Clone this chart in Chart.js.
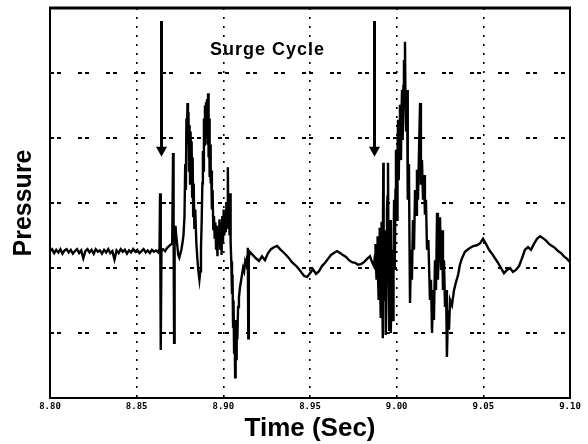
<!DOCTYPE html>
<html>
<head>
<meta charset="utf-8">
<script src="https://cdn.jsdelivr.net/npm/chart.js@4.4.1/dist/chart.umd.min.js"></script>
<style>
  html, body { margin: 0; padding: 0; background: #fff; }
  canvas { display: block; }
</style>
</head>
<body>
<canvas id="c" width="588" height="444"></canvas>
<script>
// ---- data (time in seconds, pressure in grid units) ----
const time = [
  8.8000, 8.8012, 8.8024, 8.8036, 8.8048, 8.8060, 8.8072, 8.8084, 8.8096, 8.8108,
  8.8120, 8.8132, 8.8144, 8.8156, 8.8168, 8.8180, 8.8192, 8.8204, 8.8216, 8.8228,
  8.8240, 8.8252, 8.8264, 8.8276, 8.8288, 8.8300, 8.8312, 8.8324, 8.8336, 8.8348,
  8.8360, 8.8372, 8.8384, 8.8396, 8.8408, 8.8420, 8.8432, 8.8444, 8.8456, 8.8468,
  8.8480, 8.8492, 8.8504, 8.8516, 8.8528, 8.8540, 8.8552, 8.8564, 8.8576, 8.8588,
  8.8600, 8.8612, 8.8624,
  8.8632, 8.8635, 8.8638, 8.8640, 8.8643, 8.8652, 8.8664, 8.8676, 8.8688, 8.8705,
  8.8710, 8.8713, 8.8716, 8.8719, 8.8724, 8.8728, 8.8733, 8.8740, 8.8746, 8.8752,
  8.8758, 8.8764, 8.8770, 8.8776, 8.8780, 8.8784, 8.8787, 8.8790, 8.8793, 8.8796,
  8.8799, 8.8802, 8.8805, 8.8808, 8.8811, 8.8814, 8.8817, 8.8820, 8.8823, 8.8826,
  8.8829, 8.8833, 8.8838, 8.8844, 8.8850, 8.8856, 8.8862, 8.8867, 8.8871, 8.8875,
  8.8879, 8.8882, 8.8885, 8.8888, 8.8891, 8.8894, 8.8897, 8.8900, 8.8903, 8.8906,
  8.8909, 8.8912, 8.8915, 8.8918, 8.8921, 8.8924, 8.8927, 8.8930, 8.8934, 8.8938,
  8.8942, 8.8946, 8.8950, 8.8954, 8.8958, 8.8962, 8.8966, 8.8970, 8.8974, 8.8978,
  8.8982, 8.8986, 8.8990, 8.8994, 8.8998, 8.9002, 8.9006, 8.9010, 8.9014, 8.9018,
  8.9022, 8.9026, 8.9029, 8.9033, 8.9036, 8.9039, 8.9042, 8.9046, 8.9050, 8.9053,
  8.9056, 8.9059, 8.9062, 8.9065, 8.9068, 8.9071, 8.9074, 8.9077, 8.9081, 8.9085,
  8.9090, 8.9096, 8.9102, 8.9108, 8.9114, 8.9120, 8.9126, 8.9132, 8.9138, 8.9141,
  8.9144, 8.9147, 8.9152,
  8.9188, 8.9206, 8.9223, 8.9240, 8.9258, 8.9275, 8.9292, 8.9310, 8.9327, 8.9344,
  8.9362, 8.9379, 8.9396, 8.9413, 8.9431, 8.9448, 8.9465, 8.9483, 8.9500, 8.9517,
  8.9535, 8.9552, 8.9569, 8.9587, 8.9604, 8.9621, 8.9638, 8.9656, 8.9673, 8.9690,
  8.9708, 8.9725, 8.9742, 8.9760, 8.9777, 8.9794, 8.9812, 8.9829, 8.9846,
  8.9858, 8.9869, 8.9875, 8.9878, 8.9881, 8.9884, 8.9887, 8.9890, 8.9893, 8.9896,
  8.9899, 8.9902, 8.9905, 8.9908, 8.9911, 8.9913, 8.9916, 8.9919, 8.9921, 8.9923,
  8.9925, 8.9927, 8.9930, 8.9933, 8.9936, 8.9938, 8.9941, 8.9944, 8.9947, 8.9950,
  8.9953, 8.9956, 8.9959, 8.9962, 8.9965, 8.9967, 8.9970, 8.9973, 8.9976, 8.9979,
  8.9982, 8.9985, 8.9988, 8.9990, 8.9993, 8.9996, 8.9999, 9.0002, 9.0005, 9.0008,
  9.0011, 9.0013, 9.0016, 9.0019, 9.0022, 9.0025, 9.0028, 9.0031, 9.0033, 9.0036,
  9.0039, 9.0042, 9.0045, 9.0048, 9.0051, 9.0054, 9.0057, 9.0060, 9.0063, 9.0065,
  9.0068, 9.0071, 9.0074, 9.0077,
  9.0083, 9.0088, 9.0094, 9.0100, 9.0106, 9.0112, 9.0117, 9.0123, 9.0129, 9.0135,
  9.0140, 9.0146, 9.0152, 9.0158, 9.0163, 9.0169, 9.0175, 9.0183, 9.0192, 9.0198,
  9.0204, 9.0210, 9.0215, 9.0221, 9.0227, 9.0233, 9.0238, 9.0244, 9.0250, 9.0256,
  9.0262, 9.0267, 9.0273, 9.0279, 9.0285, 9.0290, 9.0296, 9.0302, 9.0308, 9.0319,
  9.0331, 9.0342, 9.0354, 9.0365, 9.0377,
  9.0394, 9.0412, 9.0429, 9.0446, 9.0463, 9.0481, 9.0498, 9.0515, 9.0533, 9.0550,
  9.0567, 9.0585, 9.0602, 9.0619, 9.0637, 9.0654, 9.0671, 9.0688, 9.0706, 9.0723,
  9.0740, 9.0758, 9.0775, 9.0792, 9.0810, 9.0827, 9.0844, 9.0862, 9.0879, 9.0896,
  9.0913, 9.0931, 9.0948, 9.0965, 9.0983, 9.1000
];
const pressure = [
  -0.74, -0.71, -0.77, -0.72, -0.76, -0.71, -0.78, -0.73, -0.71, -0.76,
  -0.72, -0.78, -0.74, -0.71, -0.77, -0.73, -0.85, -0.74, -0.71, -0.76,
  -0.72, -0.78, -0.71, -0.75, -0.73, -0.78, -0.72, -0.76, -0.71, -0.77,
  -0.74, -0.87, -0.73, -0.77, -0.71, -0.75, -0.72, -0.78, -0.73, -0.76,
  -0.71, -0.75, -0.72, -0.77, -0.74, -0.71, -0.76, -0.73, -0.77, -0.72,
  -0.75, -0.73, -0.76,
  -0.70, 0.15, -0.60, -2.26, -0.72, -0.71, -0.74, -0.69, -0.66, -0.62,
  0.77, -0.40, -2.15, -0.55, -0.35, -0.50, -0.62, -0.80, -0.84, -0.78,
  -0.72, -0.62, -0.50, -0.20, 0.60, 0.20, 1.30, 0.90, 1.54, 1.00,
  1.40, 0.50, 1.20, 0.30, 1.10, 0.40, 0.95, 0.10, 0.70, -0.20,
  0.30, -0.40, -0.10, -0.60, -0.85, -1.05, -1.18, -1.05, -0.70, -0.30,
  0.30, 0.80, 0.50, 1.30, 0.90, 1.50, 1.10, 1.55, 1.00, 1.60,
  0.90, 1.69, 0.70, 1.30, 0.40, 0.90, 0.30, 0.50, -0.10, 0.20,
  -0.40, -0.20, -0.55, -0.30, -0.70, -0.35, -0.82, -0.40, -0.60, -0.25,
  -0.70, -0.30, -0.80, -0.20, -0.60, -0.10, -0.50, -0.15, -0.45, 0.00,
  -0.30, 0.55, -0.40, -0.10, -0.50, 0.15, -0.60, -0.90, -1.40, -1.10,
  -1.90, -1.50, -2.30, -1.80, -2.68, -2.00, -2.40, -1.80, -2.10, -1.60,
  -1.45, -1.30, -1.20, -1.10, -1.00, -1.05, -0.90, -0.95, -0.82, -0.69,
  -2.08, -0.85, -0.75,
  -0.85, -0.89, -0.82, -0.88, -0.77, -0.71, -0.68, -0.66, -0.71, -0.75,
  -0.80, -0.85, -0.91, -0.95, -1.00, -1.06, -1.12, -1.14, -1.08, -1.02,
  -1.09, -1.05, -0.97, -0.92, -0.86, -0.80, -0.77, -0.74, -0.77, -0.80,
  -0.83, -0.88, -0.91, -0.92, -0.95, -0.94, -0.91, -0.86, -0.82,
  -0.91, -0.97, -0.80, -0.63, -1.00, -1.18, -0.70, -0.51, -1.20, -1.49,
  -0.70, -0.38, -1.30, -1.77, -0.90, -0.29, -1.40, -2.08, -0.80, 0.62,
  -0.60, -1.49, -0.90, -0.42, -1.50, -2.03, -1.00, -0.11, 0.10, 0.62,
  -0.80, -1.95, -1.00, -0.26, -1.20, -2.00, -1.30, -0.72, -1.40, -1.80,
  -0.80, 0.05, -0.60, -1.03, 0.20, 0.82, 0.20, -0.26, 0.80, 1.28,
  0.70, 0.35, 1.20, 1.51, 1.00, 0.66, 1.40, 1.74, 1.20, 0.97,
  1.80, 2.20, 1.60, 2.48, 1.50, 1.12, 1.60, 1.74, 0.80, 0.05,
  0.60, 0.51, -0.60, -1.54,
  -0.72, -1.18, -0.26, -0.72, 0.20, -0.18, 0.51, 0.05, 0.82, 1.54,
  0.28, 0.66, 0.05, 0.43, -0.18, 0.05, -0.72, -0.57, -1.49, -1.18,
  -2.00, -1.34, -1.80, -0.88, -1.34, -0.15, -1.18, -0.57, -0.22, -1.03,
  -0.42, -1.34, -0.88, -1.60, -1.34, -2.37, -1.65, -1.95, -1.49, -1.57,
  -1.34, -1.22, -1.11, -0.95, -0.85,
  -0.75, -0.71, -0.68, -0.66, -0.65, -0.62, -0.55, -0.63, -0.72, -0.78,
  -0.85, -0.92, -1.00, -1.08, -1.03, -1.00, -1.06, -1.03, -0.97, -0.85,
  -0.72, -0.68, -0.72, -0.63, -0.55, -0.51, -0.54, -0.58, -0.63, -0.66,
  -0.69, -0.74, -0.77, -0.82, -0.86, -0.91
];

const xTickValues = [8.80, 8.85, 8.90, 8.95, 9.00, 9.05, 9.10];
const xTickLabels = ['8.80', '8.85', '8.90', '8.95', '9.00', '9.05', '9.10'];
const yGridValues = [-3, -2, -1, 0, 1, 2, 3];

// annotations: arrows marking the surge cycles, and their label
const arrowTimes = [8.8643, 8.9867];
const arrowTop = 2.80;
const arrowTip = 0.71;
const surgeLabel = 'Surge Cycle';
const surgeLabelTime = 8.8923;
const surgeLabelValue = 2.28;

if (time.length !== pressure.length) console.error('length mismatch', time.length, pressure.length);

const points = time.map((t, i) => ({ x: t, y: pressure[i] }));

const overlay = {
  id: 'overlay',
  afterDatasetsDraw(chart) {
    const { ctx, chartArea: a, scales: { x, y } } = chart;
    ctx.save();
    // frame
    ctx.strokeStyle = '#000';
    ctx.lineWidth = 2;
    ctx.setLineDash([]);
    ctx.strokeRect(a.left, a.top, a.right - a.left, a.bottom - a.top);
    ctx.lineWidth = 3;
    ctx.beginPath();
    ctx.moveTo(a.left - 1, a.top);
    ctx.lineTo(a.right + 1, a.top);
    ctx.stroke();
    // arrows
    ctx.fillStyle = '#000';
    arrowTimes.forEach(t => {
      const px = Math.round(x.getPixelForValue(t)) + 0.5;
      const y0 = y.getPixelForValue(arrowTop);
      const y1 = y.getPixelForValue(arrowTip);
      ctx.lineWidth = 3;
      ctx.beginPath();
      ctx.moveTo(px, y0);
      ctx.lineTo(px, y1 - 8);
      ctx.stroke();
      ctx.beginPath();
      ctx.moveTo(px - 5.5, y1 - 10);
      ctx.lineTo(px + 5.5, y1 - 10);
      ctx.lineTo(px, y1);
      ctx.closePath();
      ctx.fill();
    });
    // label
    ctx.font = 'bold 18px "Liberation Sans", Arial, sans-serif';
    if ('letterSpacing' in ctx) ctx.letterSpacing = '1px';
    ctx.textAlign = 'left';
    ctx.textBaseline = 'alphabetic';
    ctx.fillText(surgeLabel, x.getPixelForValue(surgeLabelTime), y.getPixelForValue(surgeLabelValue));
    ctx.restore();
  }
};

new Chart(document.getElementById('c'), {
  type: 'line',
  data: {
    datasets: [{
      label: 'Pressure',
      data: points,
      borderColor: '#000',
      borderWidth: 2.4,
      pointRadius: 0,
      tension: 0,
      fill: false
    }]
  },
  options: {
    responsive: false,
    animation: false,
    devicePixelRatio: 1,
    layout: { padding: { left: 0, right: 18, top: 8, bottom: 0 } },
    plugins: { legend: { display: false }, tooltip: { enabled: false } },
    scales: {
      x: {
        type: 'linear',
        min: 8.80,
        max: 9.10,
        afterBuildTicks: s => { s.ticks = xTickValues.map(v => ({ value: v })); },
        afterFit: s => { s.height = 46; },
        ticks: {
          callback: (v, i) => xTickLabels[i],
          font: { family: 'DejaVu Sans Mono', weight: 'bold', size: 9 },
          color: '#000',
          padding: 3,
          maxRotation: 0,
          autoSkip: false
        },
        grid: { color: '#000', lineWidth: 1.6, drawTicks: false },
        border: { display: false, dash: [2, 7] },
        title: {
          display: true,
          text: 'Time (Sec)',
          color: '#000',
          font: { family: 'Liberation Sans', weight: 'bold', size: 26 },
          padding: { top: 0, bottom: 0 }
        }
      },
      y: {
        min: -3,
        max: 3,
        afterBuildTicks: s => { s.ticks = yGridValues.map(v => ({ value: v })); },
        afterFit: s => { s.width = 50; },
        ticks: { display: false },
        grid: { color: '#000', lineWidth: 2, drawTicks: false },
        border: { display: false, dash: [4, 3, 4, 17] },
        title: {
          display: true,
          text: 'Pressure',
          color: '#000',
          font: { family: 'Liberation Sans', weight: 'bold', size: 25 },
          padding: { top: 9, bottom: 0 }
        }
      }
    }
  },
  plugins: [overlay]
});
</script>
</body>
</html>
